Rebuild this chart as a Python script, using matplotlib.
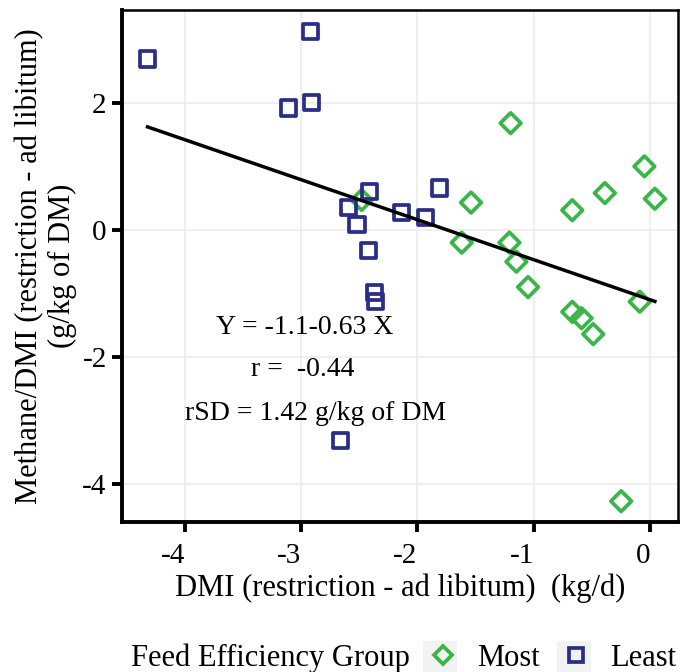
"""Methane/DMI change vs DMI change, by feed efficiency group."""

import numpy as np
from matplotlib import pyplot as plt
from matplotlib.lines import Line2D
from matplotlib.patches import Rectangle

plt.rcParams['font.family'] = ['Liberation Serif', 'DejaVu Serif']
plt.rcParams['axes.unicode_minus'] = False

# Least efficient group (squares)
least_x = [-4.32, -2.92, -3.11, -2.91, -2.59, -2.52, -2.41, -2.42, -2.37,
           -2.36, -2.66, -2.14, -1.93, -1.81]
least_y = [2.69, 3.12, 1.92, 2.00, 0.35, 0.09, 0.61, -0.33, -0.99,
           -1.13, -3.31, 0.27, 0.19, 0.66]

# Most efficient group (diamonds)
most_x = [-1.20, -1.54, -1.62, -1.21, -1.15, -1.05, -0.67, -0.39, -0.05,
          0.04, -0.67, -0.59, -0.49, -0.09, -0.25, -2.48]
most_y = [1.68, 0.43, -0.20, -0.20, -0.50, -0.90, 0.31, 0.58, 1.00,
          0.49, -1.29, -1.39, -1.64, -1.13, -4.27, 0.47]

# Regression reported on the figure
INTERCEPT = -1.1
SLOPE = -0.63
stats_lines = ['Y = -1.1-0.63 X', 'r =  -0.44', 'rSD = 1.42 g/kg of DM']

GREEN = '#3bb54a'
NAVY = '#2b2e86'
FS = 22
W, H = 685, 672
LEG_Y = 1 - 658 / H

fig = plt.figure(figsize=(6.85, 6.72), dpi=100)
ax = fig.add_axes([0.178, 0.223, 0.812, 0.762])

ax.grid(True, color='#ebebeb', linewidth=1.1)
ax.set_axisbelow(True)

ax.scatter(most_x, most_y, marker='D', s=110, facecolors='none',
           edgecolors=GREEN, linewidths=2.7, zorder=3)
ax.scatter(least_x, least_y, marker='s', s=120, facecolors='none',
           edgecolors=NAVY, linewidths=2.7, zorder=4)

# fitted line over the data range
all_x = least_x + most_x
xs = np.array([min(all_x), max(all_x)])
ax.plot(xs, INTERCEPT + SLOPE * xs, color='black', linewidth=2.5, zorder=5)

# stats text
ax.text(-2.97, -1.54, stats_lines[0], ha='center', va='center', fontsize=20, zorder=6)
ax.text(-2.99, -2.20, stats_lines[1], ha='center', va='center', fontsize=20, zorder=6)
ax.text(-2.88, -2.89, stats_lines[2], ha='center', va='center', fontsize=20, zorder=6)

ax.set_xlim(-4.54, 0.24)
ax.set_ylim(-4.6, 3.46)
ax.set_xticks([-4, -3, -2, -1, 0])
ax.set_yticks([-4, -2, 0, 2])
ax.tick_params(axis='both', labelsize=21, width=2.8, length=7, color='black')
ax.tick_params(axis='x', pad=8)
ax.tick_params(axis='y', pad=4)
# the x labels sit just left of their ticks in the original
for lab in ax.get_xticklabels():
    lab.set_horizontalalignment('right')

for side in ['left', 'bottom']:
    ax.spines[side].set_linewidth(2.8)
for side in ['top', 'right']:
    ax.spines[side].set_linewidth(1.8)

fig.text(0.584, 1 - 588 / H, 'DMI (restriction - ad libitum)  (kg/d)',
         ha='center', va='center', fontsize=FS)
fig.text(46 / W, 1 - 266 / H, 'Methane/DMI (restriction - ad libitum)\n(g/kg of DM)',
         ha='center', va='center', rotation=90, fontsize=FS, multialignment='center',
         linespacing=1.15)

# legend along the bottom, light key boxes behind the symbols
for cx in [440, 574]:
    fig.patches.append(Rectangle(((cx - 17) / W, LEG_Y - 17 / H), 34 / W, 34 / H,
                                 transform=fig.transFigure, facecolor='#f2f2f2',
                                 edgecolor='none', zorder=0))
fig.text(270 / W, LEG_Y, 'Feed Efficiency Group', ha='center', va='center',
         fontsize=FS)
handles = [
    Line2D([], [], marker='D', linestyle='none', markersize=9.5, markerfacecolor='none',
           markeredgecolor=GREEN, markeredgewidth=2.7, label='Most'),
    Line2D([], [], marker='s', linestyle='none', markersize=9.5, markerfacecolor='none',
           markeredgecolor=NAVY, markeredgewidth=2.7, label='Least'),
]
fig.legend(handles=handles, loc='center left', bbox_to_anchor=(428 / W, LEG_Y),
           ncol=2, frameon=False, fontsize=FS, handlelength=1.0, handletextpad=0.6,
           columnspacing=0.7, borderaxespad=0, borderpad=0)

fig.savefig('out.png', dpi=100)
